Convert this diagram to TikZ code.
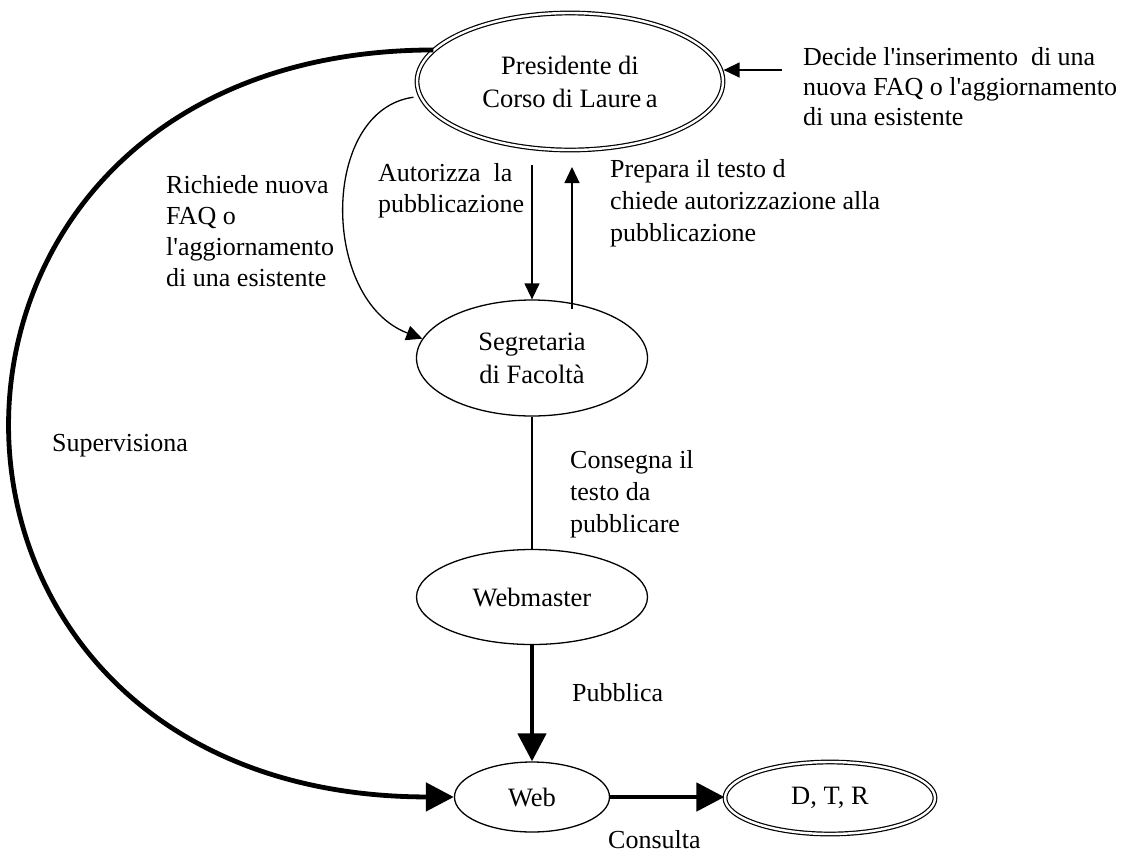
\documentclass[tikz,border=0pt]{standalone}
\usepackage{fontspec}
\setmainfont{Liberation Serif}
\usetikzlibrary{arrows.meta,shapes.geometric,calc}
\newcommand{\apo}{\textquotesingle}
\begin{document}
\begin{tikzpicture}[x=1pt,y=-1pt,
  txt/.style={font=\fontsize{26}{31}\selectfont, inner sep=0pt, align=left, anchor=north west},
  actor/.style={draw, ellipse, line width=1.3pt, font=\fontsize{26.5}{33}\selectfont, align=center, inner sep=0pt},
  dactor/.style={actor, double, double distance=2.4pt, line width=1.2pt},
  thinarrow/.style={line width=1.3pt, -{Triangle[length=16pt,width=15pt]}},
  boldarrow/.style={line width=4.8pt, -{Triangle[length=28pt,width=28pt]}}]
\useasboundingbox (0,0) rectangle (1130,855);

% actors
\node[dactor, minimum width=306pt, minimum height=137pt] (pres) at (570,81.5) {Presidente di\\Corso di Laure\,a};
\node[actor, minimum width=231pt, minimum height=116pt] (segr) at (532,358) {Segretaria\\di Facoltà};
\node[actor, minimum width=231pt, minimum height=95pt] (webm) at (532,597) {Webmaster};
\node[actor, minimum width=155pt, minimum height=70pt] (web) at (532,797) {Web};
\node[dactor, minimum width=210pt, minimum height=72pt] (dtr) at (830,798) {D, T, R};

% labels
\node[txt, font=\fontsize{26}{30}\selectfont] (ldec) at (803,47) {Decide l\apo inserimento\ \ di una\\nuova FAQ o l\apo aggiornamento\\di una esistente};
\node[txt] (lric) at (166,175) {Richiede nuova\\FAQ o\\l\apo aggiornamento\\di una esistente};
\node[txt] (laut) at (378,163) {Autorizza\ \ la\\pubblicazione};
\node[txt, font=\fontsize{26}{32}\selectfont] (lprep) at (610,159) {Prepara il testo d\\chiede autorizzazione alla\\pubblicazione};
\node[txt, font=\fontsize{26}{32}\selectfont] (lcons) at (570,450) {Consegna il\\testo da\\pubblicare};
\node[txt] (lsup) at (52,434) {Supervisiona};
\node[txt] (lpub) at (572,683) {Pubblica};
\node[txt] (lconsu) at (608,830) {Consulta};

% connectors
\coordinate (src) at (782,70);
\draw[thinarrow] (src) -- (pres.east |- src);
\coordinate (pa) at (532,165);
\coordinate (pb) at (572,309);
\draw[thinarrow] (pa) -- (pa |- segr.north);
\draw[thinarrow] (pb) -- (572,167);
\draw[thinarrow] ($(pres.186)+(-7,0)$) .. controls (320,110) and (320,300) .. (segr.170);
\draw[line width=1.3pt] (segr.south) -- (webm.north);
\draw[boldarrow] (webm.south) -- (web.north);
\draw[boldarrow] (web.east) -- (web.east -| dtr.west);
\draw[boldarrow] (pres.167) .. controls (-132,51) and (-132,796) .. (web.west);
\end{tikzpicture}
\end{document}
